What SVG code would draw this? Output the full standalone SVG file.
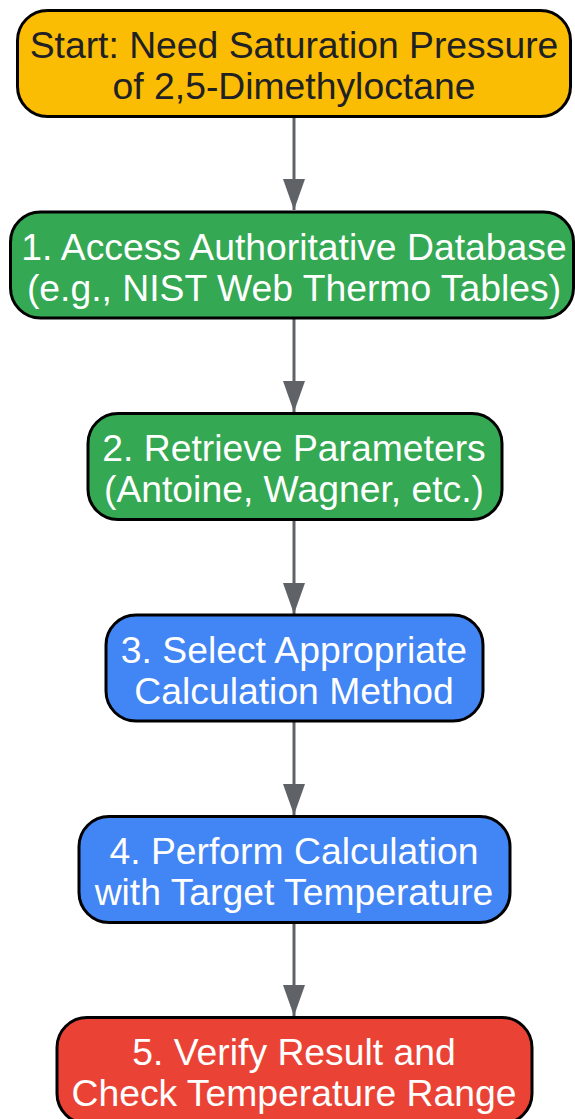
<svg xmlns="http://www.w3.org/2000/svg" width="575" height="1119" viewBox="0 0 575 1119">
<style>
.n rect{stroke:#000;stroke-width:3}
.n text{font-family:"Liberation Sans",Arial,sans-serif;font-size:37.3px;text-anchor:middle;fill:#fff}
#n0 text{fill:#202124}
.c line{stroke:#5f6368;stroke-width:3}
</style>
<defs>
<marker id="ah" viewBox="0 0 31 22" refX="31" refY="11" markerWidth="31" markerHeight="22" markerUnits="userSpaceOnUse" orient="auto">
<path d="M0,0 L31,11 L0,22 Z" fill="#5f6368"/>
</marker>
</defs>
<rect width="575" height="1119" fill="#fff"/>
<g id="connectors" class="c">
<line x1="294" y1="117" x2="294" y2="210" marker-end="url(#ah)"/>
<line x1="294" y1="318" x2="294" y2="412" marker-end="url(#ah)"/>
<line x1="294" y1="520" x2="294" y2="614" marker-end="url(#ah)"/>
<line x1="294" y1="721" x2="294" y2="815" marker-end="url(#ah)"/>
<line x1="294" y1="923" x2="294" y2="1016" marker-end="url(#ah)"/>
</g>
<g id="n0" class="n">
<rect x="17.5" y="10.5" width="553" height="106" rx="30" fill="#fbbc04"/>
<text x="294" y="58">Start: Need Saturation Pressure</text>
<text x="294" y="99">of 2,5-Dimethyloctane</text>
</g>
<g id="n1" class="n">
<rect x="10.5" y="212" width="563" height="106" rx="30" fill="#34a853"/>
<text x="294" y="259.5">1. Access Authoritative Database</text>
<text x="294" y="300.5">(e.g., NIST Web Thermo Tables)</text>
</g>
<g id="n2" class="n">
<rect x="88" y="413.5" width="414" height="106" rx="30" fill="#34a853"/>
<text x="294" y="461">2. Retrieve Parameters</text>
<text x="294" y="502">(Antoine, Wagner, etc.)</text>
</g>
<g id="n3" class="n">
<rect x="106" y="615" width="377" height="106" rx="30" fill="#4285f4"/>
<text x="294" y="662.5">3. Select Appropriate</text>
<text x="294" y="703.5">Calculation Method</text>
</g>
<g id="n4" class="n">
<rect x="79" y="816.5" width="431" height="106" rx="30" fill="#4285f4"/>
<text x="294" y="864">4. Perform Calculation</text>
<text x="294" y="905">with Target Temperature</text>
</g>
<g id="n5" class="n">
<rect x="57" y="1017.5" width="475" height="106" rx="30" fill="#ea4335"/>
<text x="294" y="1065">5. Verify Result and</text>
<text x="294" y="1106">Check Temperature Range</text>
</g>
</svg>
